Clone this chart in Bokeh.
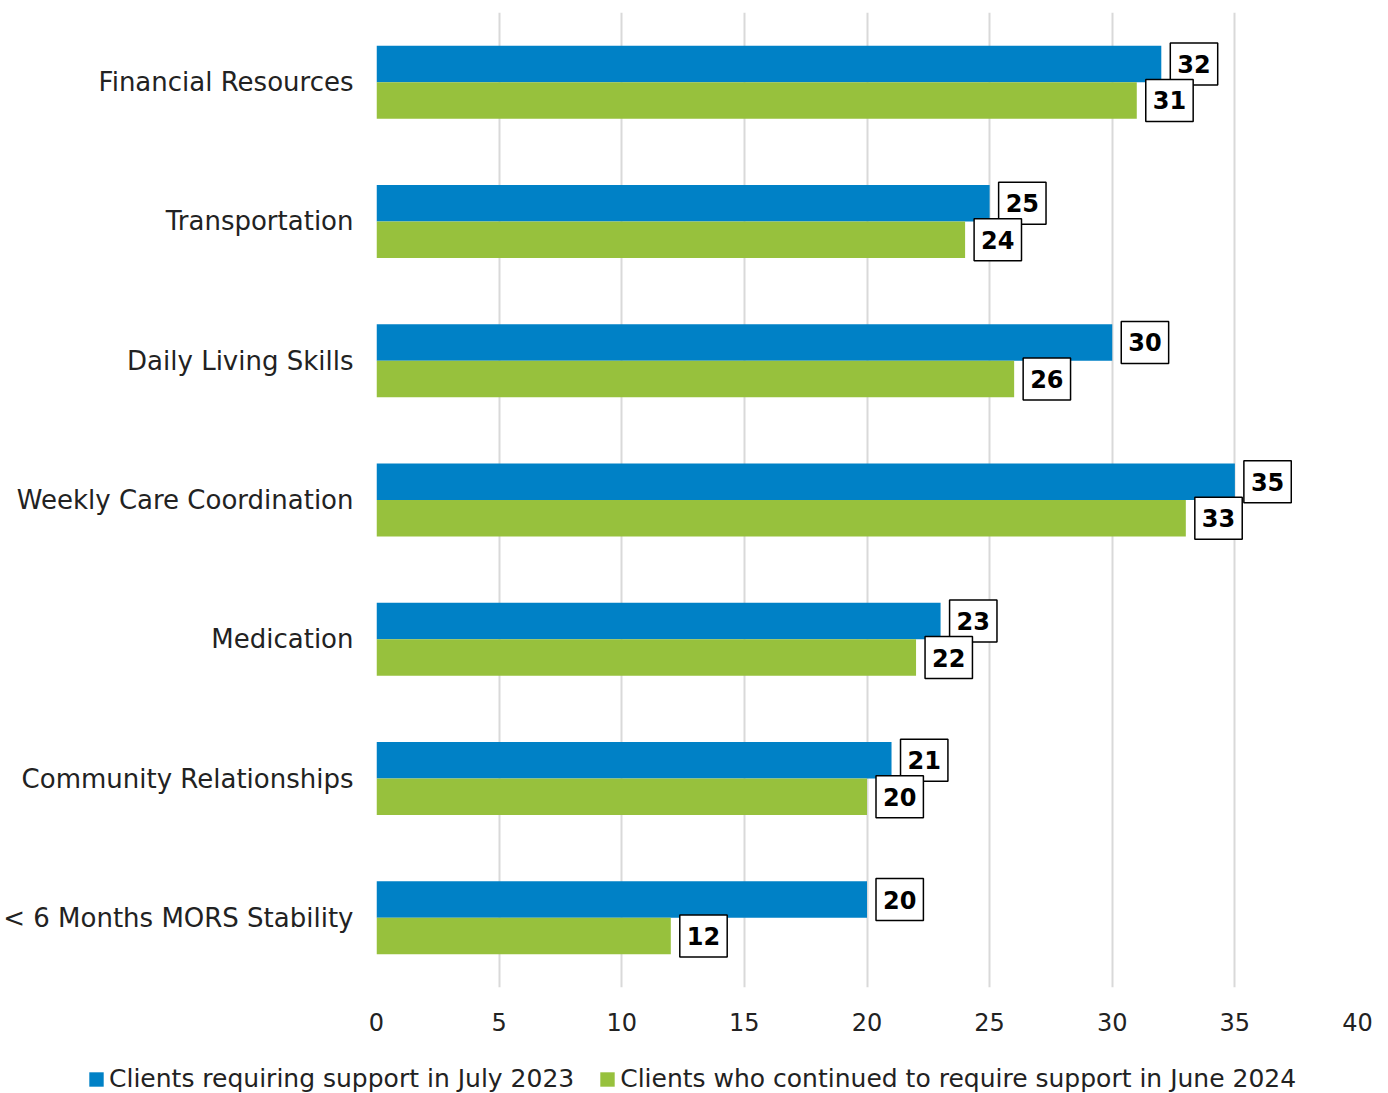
from bokeh.plotting import figure
from bokeh.layouts import column
from bokeh.models import ColumnDataSource, FactorRange, Legend, LegendItem, FixedTicker, Range1d
from bokeh.transform import dodge
from bokeh.embed import file_html
from bokeh.resources import INLINE
from bokeh.core.properties import value

categories = ["Financial Resources", "Transportation", "Daily Living Skills",
              "Weekly Care Coordination", "Medication", "Community Relationships",
              "< 6 Months MORS Stability"]
july_2023 = [32, 25, 30, 35, 23, 21, 20]
june_2024 = [31, 24, 26, 33, 22, 20, 12]
series_names = ["Clients requiring support in July 2023",
                "Clients who continued to require support in June 2024"]
x_ticks = [0, 5, 10, 15, 20, 25, 30, 35, 40]

BLUE = "#0081C6"
GREEN = "#97C13D"
FONT = "DejaVu Sans"
TXT = "#222222"

src = ColumnDataSource(dict(
    cat=categories, july=july_2023, june=june_2024,
    july_lbl=[str(v) for v in july_2023], june_lbl=[str(v) for v in june_2024],
))

p = figure(width=1388, height=1050, output_backend="svg", toolbar_location=None,
           y_range=FactorRange(factors=categories[::-1]),
           x_range=Range1d(0, 40),
           min_border_left=376, min_border_right=31, min_border_top=12, min_border_bottom=63)
p.outline_line_color = None
p.background_fill_color = "white"

bw = 0.262
b1 = p.hbar(y=dodge("cat", bw / 2, range=p.y_range), left=0, right="july", height=bw,
            source=src, fill_color=BLUE, line_color=None)
b2 = p.hbar(y=dodge("cat", -bw / 2, range=p.y_range), left=0, right="june", height=bw,
            source=src, fill_color=GREEN, line_color=None)

for col, lbl, off in (("july", "july_lbl", bw / 2), ("june", "june_lbl", -bw / 2)):
    p.text(x=col, y=dodge("cat", off, range=p.y_range), text=lbl, source=src,
           x_offset=9, text_align="left", text_baseline="middle",
           text_font=value(FONT), text_font_style="bold", text_font_size="24px",
           text_color="black", background_fill_color="white",
           border_line_color="black", border_line_width=1.5,
           padding=dict(left=7, right=7, top=12, bottom=12))

for ax in (p.xaxis, p.yaxis):
    ax.axis_line_color = None
    ax.major_tick_line_color = None
    ax.minor_tick_line_color = None
    ax.major_tick_out = 0
    ax.major_tick_in = 0
    ax.minor_tick_out = 0
    ax.minor_tick_in = 0
    ax.major_label_text_font = FONT
    ax.major_label_text_color = TXT

p.xaxis.ticker = FixedTicker(ticks=x_ticks)
p.xaxis.major_label_text_font_size = "24px"
p.xaxis.major_label_standoff = 25
p.yaxis.major_label_text_font_size = "26px"
p.yaxis.major_label_standoff = 23

p.ygrid.grid_line_color = None
p.xgrid.grid_line_color = "#D9D9D9"
p.xgrid.grid_line_width = 2

# Legend strip below the chart
lg = figure(width=1388, height=43, output_backend="svg", toolbar_location=None,
            x_range=Range1d(0, 1), y_range=Range1d(0, 1),
            min_border_left=0, min_border_right=0, min_border_top=0, min_border_bottom=0)
lg.axis.visible = False
lg.grid.visible = False
lg.outline_line_color = None
key_src = ColumnDataSource(dict(y=[-50], l=[-60], r=[-55]))
l1 = lg.hbar(y="y", left="l", right="r", height=0.5, source=key_src,
             fill_color=BLUE, line_color=None)
l2 = lg.hbar(y="y", left="l", right="r", height=0.5, source=key_src,
             fill_color=GREEN, line_color=None)
legend = Legend(items=[LegendItem(label=series_names[0], renderers=[l1]),
                       LegendItem(label=series_names[1], renderers=[l2])],
                orientation="horizontal", location=(87, 0),
                label_text_font=FONT, label_text_font_size="25px",
                label_text_color=TXT, glyph_width=18, glyph_height=18,
                spacing=24, label_standoff=4, border_line_color=None,
                background_fill_alpha=0, padding=0, margin=0)
lg.add_layout(legend, "center")

layout = column(p, column(lg, spacing=0), spacing=0)
open("out.html", "w").write(file_html(layout, INLINE))
